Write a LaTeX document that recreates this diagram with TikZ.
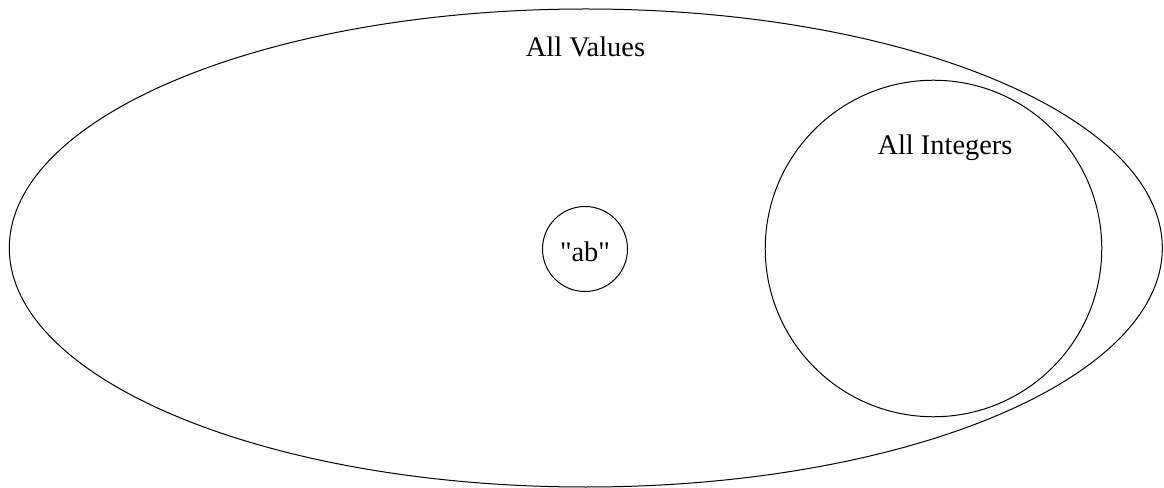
\documentclass[tikz,border=0pt]{standalone}
\usepackage{fontspec}
\newfontfamily\setfont{Liberation Serif}
\usetikzlibrary{shapes.geometric}

\begin{document}
\begin{tikzpicture}[x=0.75pt,y=-0.75pt,line width=0.75pt,
 font=\setfont\fontsize{21.3}{25}\selectfont,
 set/.style={draw,inner sep=0pt},
 lbl/.style={anchor=base,inner sep=0pt}]
\useasboundingbox (0,0) rectangle (1164,488);
\node[set,ellipse,minimum width=864.75pt,minimum height=358.5pt] (values) at (585.8,248) {};
\node[set,circle,minimum size=252.4pt] (ints) at (933.5,248.5) {};
\node[set,circle,minimum size=63.75pt] (ab) at (585,249) {};
\node[lbl] (valtxt) at (585.5,57) {All Values};
\node[lbl] (inttxt) at (945,155) {All Integers};
\node[lbl] (abtxt) at (585,262) {"ab"};
\end{tikzpicture}
\end{document}
